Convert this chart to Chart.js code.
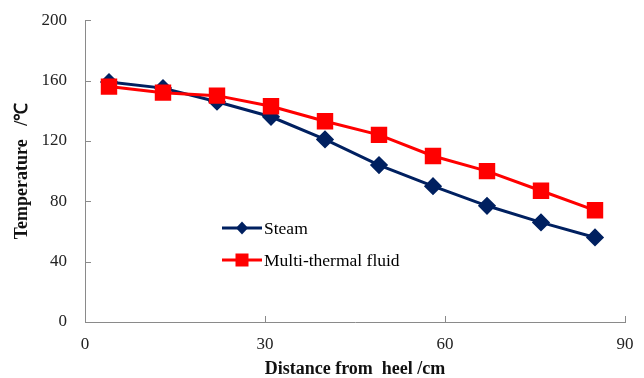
<!DOCTYPE html>
<html>
<head>
<meta charset="utf-8">
<script src="https://cdn.jsdelivr.net/npm/chart.js@4/dist/chart.umd.min.js"></script>
<style>
  html, body { margin: 0; padding: 0; background: #fff; }
  #wrap { width: 644px; height: 378px; position: relative; }
</style>
</head>
<body>
<div id="wrap"><canvas id="grafico"></canvas></div>
<script>
// dados
const distancias = [4, 13, 22, 31, 40, 49, 58, 67, 76, 85];
const steam = [159, 155, 146, 136, 121, 104, 90, 77, 66, 56];
const multiTermico = [156, 152, 150, 143, 133, 124, 110, 100, 87, 74];
const ticksX = [0, 30, 60, 90];
const ticksY = [0, 40, 80, 120, 160, 200];

const fonte = 'Liberation Serif, Times New Roman, serif';
const corAzul = '#002060';
const corVermelho = '#ff0000';
const corEixo = '#8a8a8a';

// marcas dos eixos para dentro
const ticksParaDentro = {
    id: 'ticksParaDentro',
    afterDatasetsDraw(chart) {
        const ctx = chart.ctx;
        const x = chart.scales.x, y = chart.scales.y;
        ctx.save();
        ctx.strokeStyle = corEixo;
        ctx.lineWidth = 1;
        ctx.beginPath();
        ticksX.forEach(v => {
            const px = Math.round(x.getPixelForValue(v)) + 0.5;
            ctx.moveTo(px, y.bottom);
            ctx.lineTo(px, y.bottom - 6);
        });
        ticksY.forEach(v => {
            const py = Math.round(y.getPixelForValue(v)) + 0.5;
            ctx.moveTo(x.left, py);
            ctx.lineTo(x.left + 6, py);
        });
        ctx.stroke();
        ctx.restore();
    }
};

// legenda dentro da área do gráfico
const legendaInterna = {
    id: 'legendaInterna',
    afterDraw(chart) {
        const ctx = chart.ctx;
        const itens = [
            { texto: 'Steam', cor: corAzul, forma: 'diamante', y: 228 },
            { texto: 'Multi-thermal fluid', cor: corVermelho, forma: 'quadrado', y: 260 }
        ];
        ctx.save();
        itens.forEach(it => {
            ctx.strokeStyle = it.cor;
            ctx.fillStyle = it.cor;
            ctx.lineWidth = 3;
            ctx.beginPath();
            ctx.moveTo(222, it.y);
            ctx.lineTo(262, it.y);
            ctx.stroke();
            ctx.beginPath();
            if (it.forma === 'diamante') {
                ctx.moveTo(242, it.y - 6.5);
                ctx.lineTo(248, it.y);
                ctx.lineTo(242, it.y + 6.5);
                ctx.lineTo(236, it.y);
                ctx.closePath();
            } else {
                ctx.rect(235.5, it.y - 6.5, 13, 13);
            }
            ctx.fill();
            ctx.fillStyle = '#000';
            ctx.font = '17.5px ' + fonte;
            ctx.textBaseline = 'middle';
            ctx.fillText(it.texto, 264, it.y + 1);
        });
        ctx.restore();
    }
};

const ctx = document.getElementById('grafico').getContext('2d');
new Chart(ctx, {
    type: 'line',
    data: {
        datasets: [
            {
                label: 'Steam',
                data: distancias.map((d, i) => ({ x: d, y: steam[i] })),
                borderColor: corAzul,
                backgroundColor: corAzul,
                borderWidth: 3,
                pointStyle: 'rectRot',
                pointRadius: 7,
                tension: 0,
                order: 2
            },
            {
                label: 'Multi-thermal fluid',
                data: distancias.map((d, i) => ({ x: d, y: multiTermico[i] })),
                borderColor: corVermelho,
                backgroundColor: corVermelho,
                borderWidth: 3,
                pointStyle: 'rect',
                pointRadius: 9.5,
                tension: 0,
                order: 1
            }
        ]
    },
    options: {
        responsive: true,
        maintainAspectRatio: false,
        animation: false,
        events: [],
        layout: { padding: { top: 14, right: 19, left: 0, bottom: 0 } },
        plugins: {
            legend: { display: false },
            tooltip: { enabled: false }
        },
        scales: {
            x: {
                type: 'linear',
                min: 0,
                max: 90,
                afterBuildTicks: s => { s.ticks = ticksX.map(v => ({ value: v })); },
                afterFit: s => { s.height = 56; },
                grid: { display: false },
                border: { display: true, color: corEixo, width: 1 },
                ticks: { color: '#222', padding: 4, font: { family: fonte, size: 17 } },
                title: {
                    display: true,
                    text: 'Distance from  heel /cm',
                    color: '#111',
                    padding: { top: 0, bottom: 0 },
                    font: { family: fonte, size: 18, weight: 'bold', lineHeight: 1 }
                }
            },
            y: {
                min: 0,
                max: 200,
                afterBuildTicks: s => { s.ticks = ticksY.map(v => ({ value: v })); },
                afterFit: s => { s.width = 85; },
                grid: { display: false },
                border: { display: true, color: corEixo, width: 1 },
                ticks: { color: '#222', padding: 10, font: { family: fonte, size: 17 } },
                title: {
                    display: true,
                    text: 'Temperature   /℃',
                    color: '#111',
                    padding: { top: 13, bottom: 0 },
                    font: { family: fonte, size: 18, weight: 'bold', lineHeight: 1 }
                }
            }
        }
    },
    plugins: [ticksParaDentro, legendaInterna]
});
</script>
</body>
</html>
